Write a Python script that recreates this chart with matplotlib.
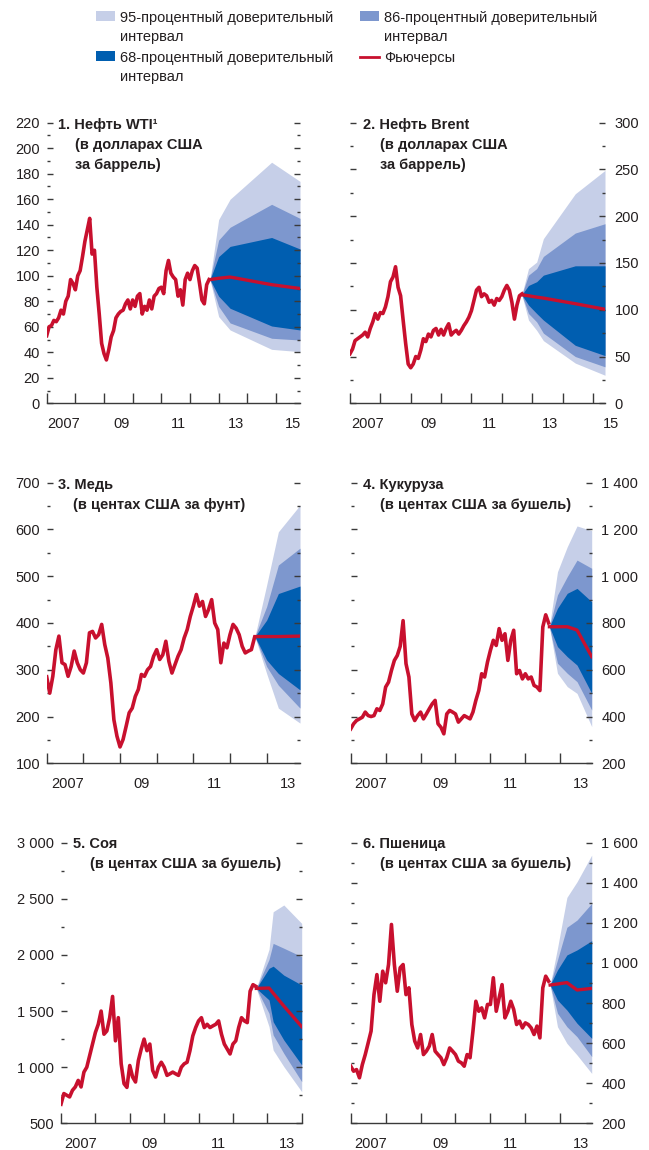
import numpy as np
import matplotlib
matplotlib.use('Agg')
import matplotlib.pyplot as plt
from matplotlib.patches import Rectangle
from matplotlib.lines import Line2D
from matplotlib.ticker import MultipleLocator, FuncFormatter

plt.rcParams['font.family'] = ['Liberation Sans', 'DejaVu Sans']

# monthly history, Jan 2007 - Sep 2012
months = 2007 + np.arange(69) / 12.0

wti = [53, 60, 61, 65, 64, 67, 73, 70, 80, 84, 97, 94,
       89, 100, 104, 115, 127, 136, 145, 117, 120, 91, 70, 47,
       39, 34, 42, 52, 57, 67, 70, 72, 73, 78, 81, 74,
       81, 76, 84, 86, 70, 76, 73, 81, 74, 84, 86, 90,
       91, 86, 104, 112, 102, 99, 97, 84, 89, 77, 97, 102,
       97, 104, 108, 106, 94, 81, 78, 93, 97]
brent = [53, 58, 67, 69, 71, 73, 76, 71, 80, 87, 96, 90,
         97, 96, 103, 114, 130, 135, 146, 124, 115, 89, 64, 42,
         38, 42, 50, 48, 57, 69, 66, 74, 71, 78, 80, 73,
         79, 73, 80, 85, 73, 76, 78, 74, 78, 83, 87, 92,
         99, 110, 121, 124, 114, 117, 115, 108, 110, 105, 112, 110,
         114, 121, 126, 121, 108, 90, 105, 115, 117]
copper = [285, 250, 286, 343, 372, 315, 311, 286, 307, 340, 315, 300,
          293, 315, 379, 382, 368, 375, 397, 354, 325, 272, 193, 158,
          135, 151, 179, 208, 218, 243, 258, 290, 286, 300, 307, 329,
          343, 322, 332, 361, 318, 293, 311, 329, 343, 368, 386, 414,
          436, 461, 436, 446, 414, 429, 450, 400, 386, 315, 357, 347,
          375, 397, 389, 375, 350, 336, 340, 343, 368]
corn = [347, 369, 383, 390, 397, 419, 404, 400, 404, 433, 426, 454,
        526, 547, 597, 640, 661, 700, 810, 626, 569, 411, 383, 404,
        419, 390, 411, 433, 454, 469, 369, 354, 326, 411, 426, 419,
        411, 376, 390, 404, 397, 390, 419, 469, 511, 583, 569, 633,
        683, 726, 704, 776, 726, 754, 640, 726, 769, 583, 597, 561,
        583, 561, 569, 533, 526, 511, 783, 835, 800]
soy = [670, 765, 750, 735, 794, 824, 882, 824, 956, 1000, 1103, 1206,
       1309, 1382, 1500, 1294, 1323, 1441, 1630, 1235, 1441, 1030, 853, 820,
       1015, 912, 868, 1059, 1162, 1250, 1147, 1206, 971, 912, 1000, 1044,
       1000, 927, 941, 956, 941, 927, 1000, 1030, 1044, 1147, 1279, 1353,
       1412, 1441, 1353, 1382, 1353, 1368, 1382, 1412, 1294, 1206, 1162, 1118,
       1206, 1235, 1353, 1441, 1412, 1397, 1677, 1735, 1720]
wheat = [485, 460, 468, 427, 493, 543, 601, 660, 842, 942, 809, 959,
         901, 992, 1192, 992, 859, 976, 992, 842, 876, 693, 610, 576,
         643, 543, 560, 585, 643, 560, 543, 527, 493, 527, 576, 560,
         543, 510, 502, 485, 543, 527, 660, 809, 759, 776, 726, 793,
         793, 926, 759, 826, 892, 726, 759, 809, 768, 693, 710, 676,
         701, 693, 676, 643, 685, 626, 876, 934, 909]

# futures and confidence bands: upper 95/86/68, lower 68/86/95
wti_t = [2012.7, 2013.0, 2013.4, 2014.85, 2015.84]
wti_fut = [97, 98, 99, 93, 90]
wti_bands = ([97, 144, 160, 189, 174], [97, 128, 138, 156, 145], [97, 115, 123, 130, 121],
             [97, 84, 74.5, 60.6, 57.5], [97, 76, 63, 51, 49.6], [97, 68, 57.5, 42.3, 40.5])

brent_t = [2012.66, 2012.88, 2013.15, 2013.37, 2014.42, 2015.4]
brent_fut = [116, 115, 113.5, 112.5, 106.5, 100.5]
brent_bands = ([116, 144, 151, 176, 224, 249], [116, 137, 144, 157, 182, 192],
               [116, 126, 130, 137, 147, 147], [116, 105, 96, 89, 62, 51],
               [116, 96, 87, 75, 50, 39], [116, 89, 78, 67, 43, 30])

copper_t = [2012.68, 2013.0, 2013.32, 2013.91]
copper_fut = [371, 371, 371, 372]
copper_bands = ([371, 481, 595, 652], [371, 435, 524, 560], [371, 406, 463, 479],
                [371, 321, 292, 257], [371, 307, 267, 218], [371, 292, 218, 186])

corn_t = [2012.69, 2012.92, 2013.2, 2013.48, 2013.9]
corn_fut = [784, 784, 784, 770, 656]
corn_bands = ([784, 1019, 1126, 1215, 1195], [784, 920, 998, 1069, 1034],
              [784, 863, 927, 948, 891], [784, 699, 656, 620, 499],
              [784, 628, 585, 549, 428], [784, 585, 528, 499, 357])

soy_t = [2012.68, 2013.05, 2013.17, 2013.48, 2014.0]
soy_fut = [1702, 1705, 1660, 1545, 1361]
soy_bands = ([1702, 2050, 2385, 2445, 2281], [1702, 1960, 2103, 2060, 1985],
             [1702, 1881, 1900, 1820, 1732], [1702, 1599, 1405, 1242, 1020],
             [1702, 1480, 1287, 1123, 871], [1702, 1361, 1153, 1005, 782])

wheat_t = [2012.71, 2012.92, 2013.19, 2013.48, 2013.9]
wheat_fut = [890, 895, 902, 865, 873]
wheat_bands = ([890, 1073, 1327, 1405, 1538], [890, 1015, 1178, 1214, 1297],
               [890, 965, 1040, 1065, 1111], [890, 815, 765, 699, 624],
               [890, 749, 682, 632, 533], [890, 682, 599, 541, 449])

W, H = 649, 1150
RED = '#c8102e'
C68, C86, C95 = '#005eb0', '#7d97ce', '#c6cfe8'
INK = '#231f20'
TICK = '#3a3a3a'
FS = 10.5

fig = plt.figure(figsize=(W / 100, H / 100), dpi=100)


def rect(l, r, t, b):
    return [l / W, 1 - b / H, (r - l) / W, (b - t) / H]


def thousands(v, pos):
    return f'{int(round(v)):,}'.replace(',', ' ')


def ftext(x, y, s, **kw):
    fig.text(x / W, 1 - y / H, s, color=INK, fontsize=FS, va='baseline', **kw)


def panel(box, hist, t, fut, bands, ylim, step, side, xmax, title, tx0, tx1, ty0):
    ax = fig.add_axes(rect(*box))
    u95, u86, u68, l68, l86, l95 = bands
    ax.fill_between(t, l95, u95, color=C95, lw=0)
    ax.fill_between(t, l86, u86, color=C86, lw=0)
    ax.fill_between(t, l68, u68, color=C68, lw=0)
    ax.plot(months, hist, color=RED, lw=2.6, solid_joinstyle='round', zorder=3)
    ax.plot(t, fut, color=RED, lw=2.4, zorder=3)

    ax.set_xlim(2007, xmax)
    ax.set_ylim(*ylim)
    for s in ('left', 'right', 'top'):
        ax.spines[s].set_visible(False)
    ax.spines['bottom'].set_color(TICK)
    ax.spines['bottom'].set_linewidth(1.0)

    ax.yaxis.set_major_locator(MultipleLocator(step))
    ax.yaxis.set_minor_locator(MultipleLocator(step / 2))
    ax.yaxis.set_major_formatter(FuncFormatter(thousands))
    left = side == 'left'
    ax.tick_params(axis='y', which='both', direction='in', left=True, right=True,
                   labelleft=left, labelright=not left, color=TICK, width=1.0,
                   labelsize=FS, labelcolor=INK, pad=4.8 if left else 7)
    ax.tick_params(axis='y', which='major', length=4.5)
    ax.tick_params(axis='y', which='minor', length=2.5)

    years = np.arange(2007, int(xmax) + 1)
    ax.set_xticks(years)
    ax.tick_params(axis='x', direction='in', length=7.2, width=1.0, color=TICK,
                   labelbottom=False)
    for y in years[::2]:
        lab = '2007' if y == 2007 else f'{y % 100:02d}'
        ax.annotate(lab, xy=(y + 0.5, 0), xycoords=('data', 'axes fraction'),
                    xytext=(2, -18), textcoords='offset points', ha='center',
                    va='baseline', fontsize=FS, color=INK, annotation_clip=False)

    for k, line in enumerate(title):
        ftext(tx0 if k == 0 else tx1, ty0 + 19.6 * k, line, fontweight='bold')
    return ax


panel((46.7, 300, 122.7, 403.3), wti, wti_t, wti_fut, wti_bands, (0, 220), 20, 'left',
      2015.84, ['1. Нефть WTI\u00b9', '(в долларах США', 'за баррель)'], 58.3, 75, 129.5)
panel((350, 605, 122.7, 403.3), brent, brent_t, brent_fut, brent_bands, (0, 300), 50, 'right',
      2015.4, ['2. Нефть Brent', '(в долларах США', 'за баррель)'], 363.3, 380, 129.5)
panel((46.7, 300, 482.7, 763.3), copper, copper_t, copper_fut, copper_bands, (100, 700), 100,
      'left', 2013.91, ['3. Медь', '(в центах США за фунт)'], 58.3, 73.3, 489.5)
panel((350.7, 591.7, 482.7, 763.3), corn, corn_t, corn_fut, corn_bands, (200, 1400), 200,
      'right', 2013.9, ['4. Кукуруза', '(в центах США за бушель)'], 363.3, 380, 489.5)
panel((61, 301.7, 842.7, 1123.3), soy, soy_t, soy_fut, soy_bands, (500, 3000), 500,
      'left', 2014.0, ['5. Соя', '(в центах США за бушель)'], 72.7, 90, 848.3)
panel((350.7, 591.7, 842.7, 1123.3), wheat, wheat_t, wheat_fut, wheat_bands, (200, 1600), 200,
      'right', 2013.9, ['6. Пшеница', '(в центах США за бушель)'], 363.3, 380, 848.3)

# legend
legend_rows = [(96, 11, C95, '95-процентный доверительный'),
               (96, 51, C68, '68-процентный доверительный'),
               (360, 11, C86, '86-процентный доверительный')]
for x, y, c, label in legend_rows:
    fig.patches.append(Rectangle((x / W, 1 - (y + 10) / H), 19 / W, 10 / H,
                                 transform=fig.transFigure, color=c, lw=0))
    ftext(x + 24, y + 11, label)
    ftext(x + 24, y + 30, 'интервал')
fig.lines.append(Line2D([360 / W, 379 / W], [1 - 56.5 / H, 1 - 56.5 / H],
                        transform=fig.transFigure, color=RED, lw=2))
ftext(384, 62, 'Фьючерсы')

fig.savefig('out.png', dpi=100)
